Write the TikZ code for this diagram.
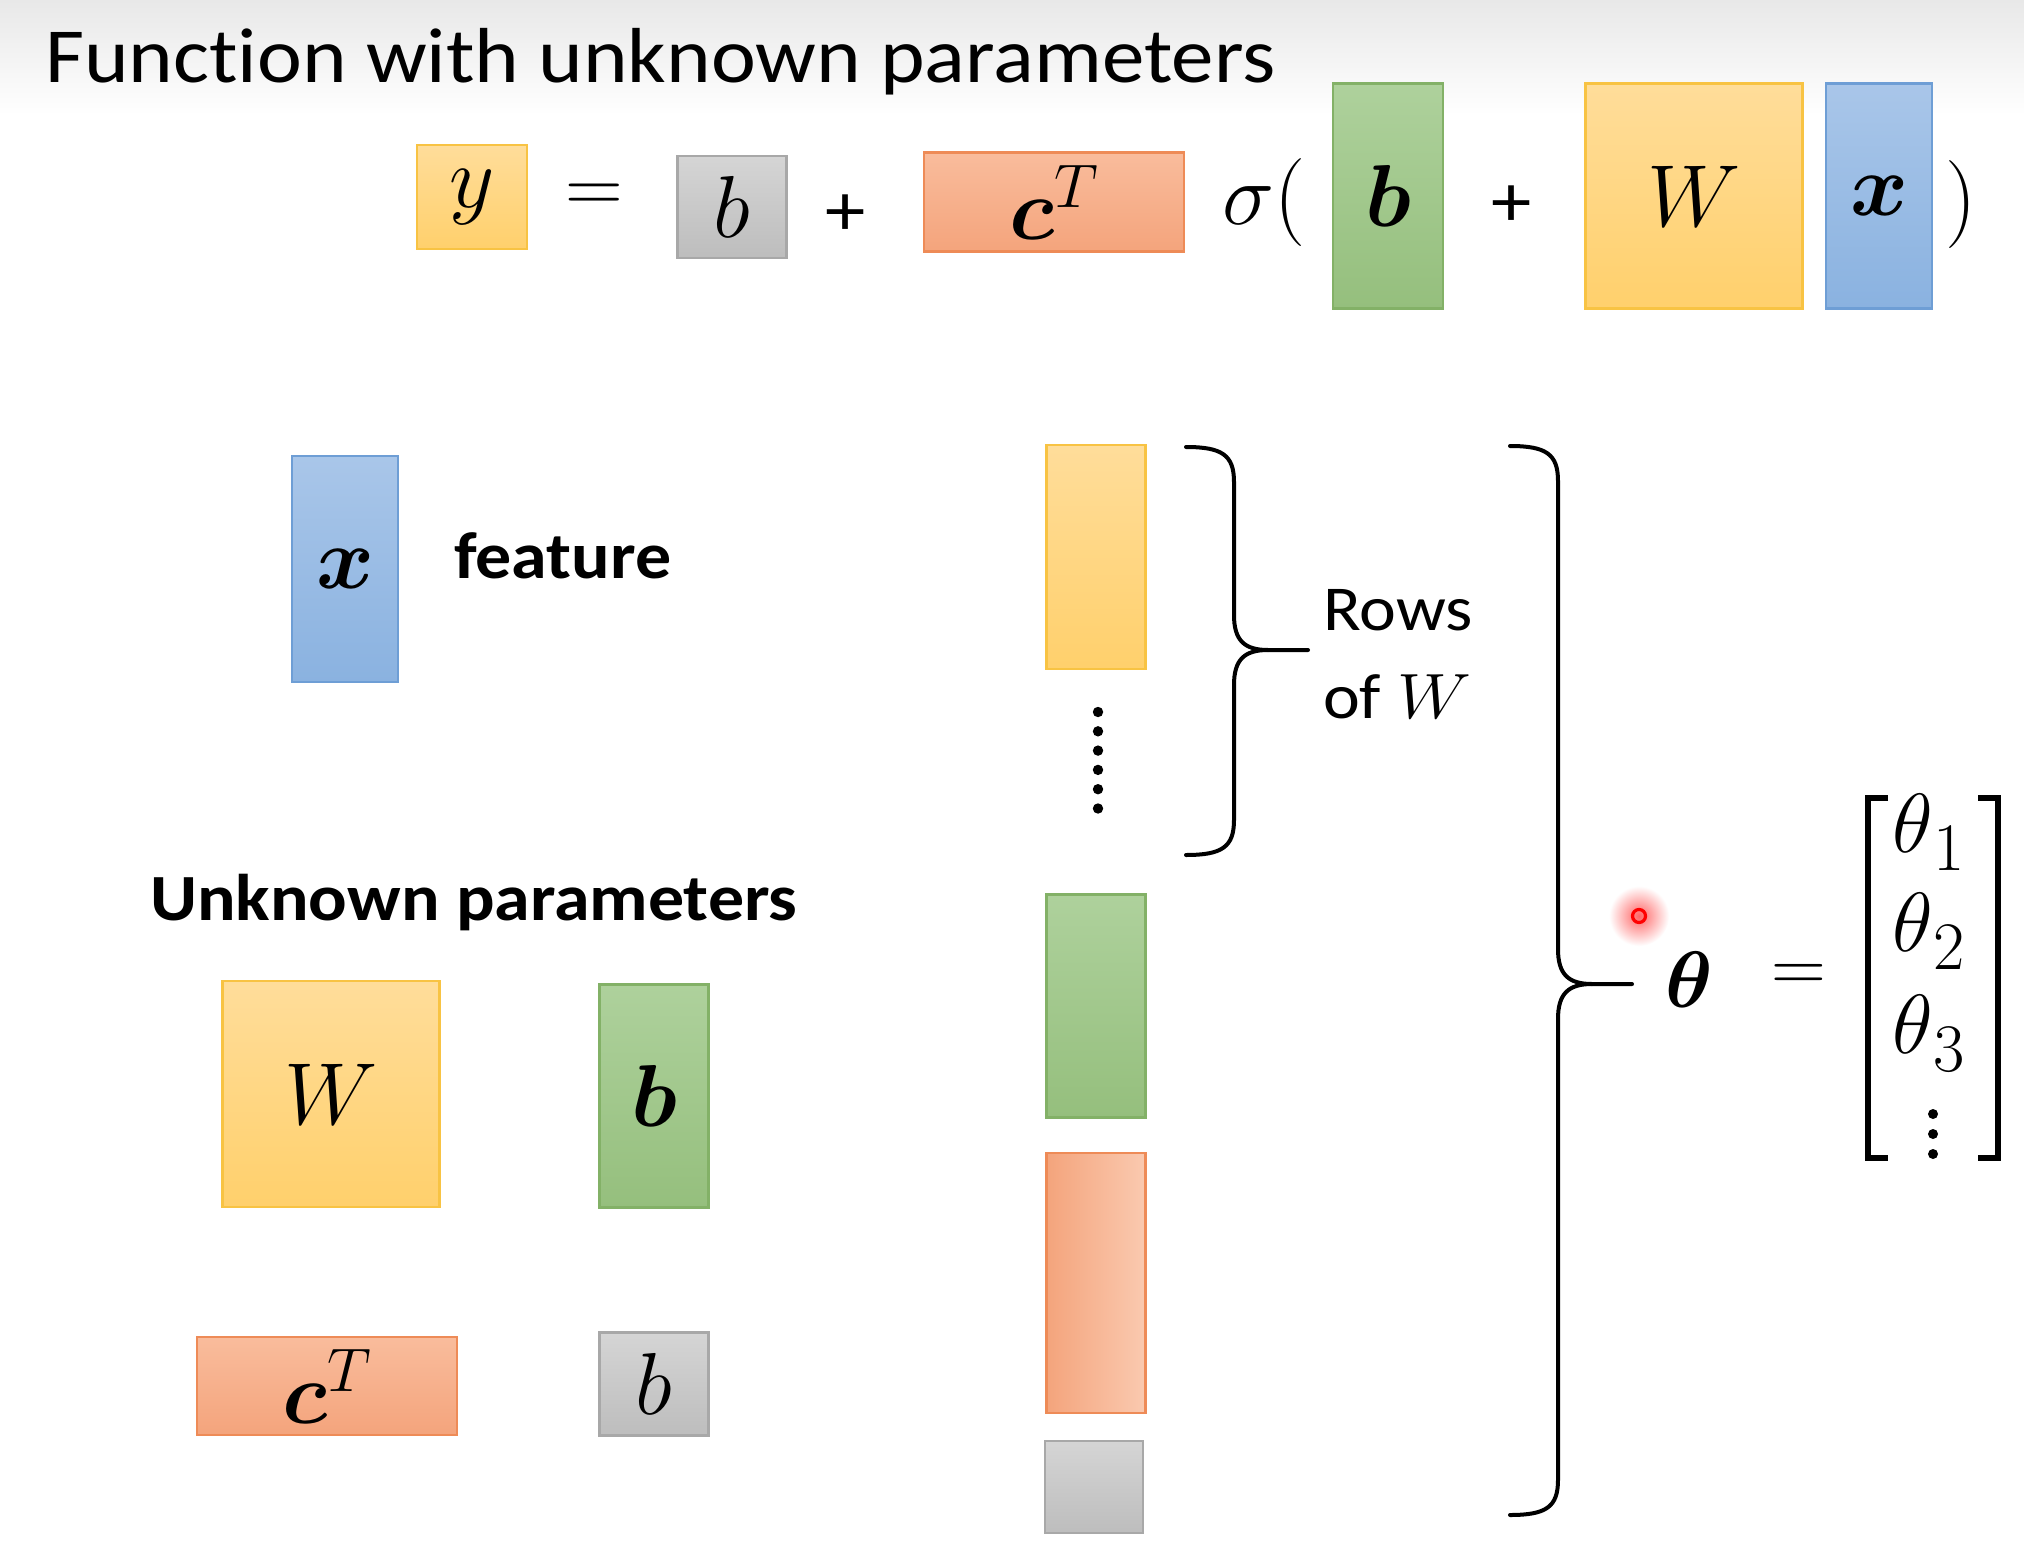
\RequirePackage{fix-cm}
\documentclass[tikz,border=0pt]{standalone}
\usepackage{amsmath,bm}
\usepackage{fontspec}
\setmainfont[Ligatures=NoCommon]{Carlito}
\definecolor{yelT}{HTML}{FFDD9A}
\definecolor{yelB}{HTML}{FFD06C}
\definecolor{yelD}{HTML}{F8C343}
\definecolor{grnT}{HTML}{AED19C}
\definecolor{grnB}{HTML}{95BF7D}
\definecolor{grnD}{HTML}{83B167}
\definecolor{bluT}{HTML}{A9C6E9}
\definecolor{bluB}{HTML}{8AB2E0}
\definecolor{bluD}{HTML}{6E9ED5}
\definecolor{orgT}{HTML}{F9BC9C}
\definecolor{orgB}{HTML}{F4A47C}
\definecolor{orgD}{HTML}{EE8B57}
\definecolor{gryT}{HTML}{D5D5D5}
\definecolor{gryB}{HTML}{BDBDBD}
\definecolor{gryD}{HTML}{A8A8A8}
\newcommand{\wide}[1]{\scalebox{1.09}[1]{#1}}
\begin{document}
\begin{tikzpicture}[x=1pt,y=-1pt,
  box/.style={draw, line width=2.2pt, inner sep=0pt, font=\fontsize{88}{90}\selectfont},
  yelbox/.style={box, draw=yelD, top color=yelT, bottom color=yelB},
  grnbox/.style={box, draw=grnD, top color=grnT, bottom color=grnB},
  blubox/.style={box, draw=bluD, top color=bluT, bottom color=bluB},
  orgbox/.style={box, draw=orgD, top color=orgT, bottom color=orgB},
  orgcol/.style={box, draw=orgD, left color=orgB, right color=orgT!80!white},
  grybox/.style={box, draw=gryD, top color=gryT, bottom color=gryB},
  sym/.style={inner sep=0pt, font=\fontsize{88}{90}\selectfont},
  plussym/.style={inner sep=0pt, font=\fontsize{74}{76}\selectfont},
  lbl/.style={inner sep=0pt, font=\fontsize{66}{70}\selectfont\bfseries},
  rowlbl/.style={inner sep=0pt, anchor=base west, font=\fontsize{64}{70}\selectfont},
  thetasty/.style={inner sep=0pt, font=\fontsize{84}{86}\selectfont},
  brace/.style={line width=4pt, line cap=round, line join=round},
  bracket/.style={line width=5.5pt}
]
\useasboundingbox (0,0) rectangle (2024,1560);
\fill[white] (0,0) rectangle (2024,1560);
\shade[top color=black!9, bottom color=white] (0,0) rectangle (2024,115);

% title
\node[inner sep=0pt, anchor=base west, font=\fontsize{78}{90}\selectfont] (title) at (45,83) {\wide{Function with unknown parameters}};

% top equation
\node[yelbox, minimum width=110, minimum height=104] (ytop) at (472,197) {$y$};
\node[inner sep=0pt, font=\fontsize{80}{82}\selectfont] (eqtop) at (594,198) {$=$};
\node[grybox, minimum width=109, minimum height=102] (btop) at (732,207) {$b$};
\node[plussym] (plustop1) at (846,215) {\wide{+}};
\node[orgbox, minimum width=260, minimum height=99] (ctop) at (1054,202) {$\bm{c}^T$};
\node[sym] (sigma) at (1264,203) {$\sigma($};
\node[grnbox, minimum width=110, minimum height=225] (bvtop) at (1388,196) {$\bm{b}$};
\node[plussym] (plustop2) at (1512,206) {\wide{+}};
\node[yelbox, minimum width=217, minimum height=225] (Wtop) at (1694,196) {$W$};
\node[blubox, minimum width=106, minimum height=225] (xtop) at (1879,196) {$\bm{x}$};
\node[sym] (rparen) at (1961,205) {$)$};

% feature
\node[blubox, minimum width=106, minimum height=226] (xbot) at (345,569) {$\bm{x}$};
\node[lbl, anchor=base west] (feature) at (454,578) {\wide{feature}};

% unknown parameters
\node[lbl, anchor=base west] (unk) at (150,920) {\wide{Unknown parameters}};
\node[yelbox, minimum width=217, minimum height=226] (Wbot) at (331,1094) {$W$};
\node[grnbox, minimum width=109, minimum height=223] (bvbot) at (654,1096) {$\bm{b}$};
\node[orgbox, minimum width=260, minimum height=98] (cbot) at (327,1386) {$\bm{c}^T$};
\node[grybox, minimum width=109, minimum height=103] (bbot) at (654,1384) {$b$};

% column
\node[yelbox, minimum width=99, minimum height=224] (col1) at (1096,557) {};
\foreach \k in {0,...,5} \fill (1098,{712+19.3*\k}) circle (5.2);
\node[grnbox, minimum width=99, minimum height=223] (col2) at (1096,1006) {};
\node[orgcol, minimum width=99, minimum height=260] (col3) at (1096,1283) {};
\node[grybox, minimum width=98, minimum height=92] (col4) at (1094,1487) {};

% small brace
\draw[brace] (1186,447) .. controls (1222,447) and (1234,455) .. (1234,482)
  -- (1234,615) .. controls (1234,640) and (1244,650) .. (1268,650) -- (1308,650);
\draw[brace] (1186,855) .. controls (1222,855) and (1234,847) .. (1234,820)
  -- (1234,685) .. controls (1234,660) and (1244,650) .. (1268,650);
\node[rowlbl] (rows) at (1323,630) {\wide{Rows}};
\node[rowlbl] (ofW) at (1323,718) {\wide{of $W$}};

% big brace
\draw[brace] (1510,446) .. controls (1546,446) and (1558,454) .. (1558,481)
  -- (1558,949) .. controls (1558,974) and (1568,984) .. (1592,984) -- (1632,984);
\draw[brace] (1510,1515) .. controls (1546,1515) and (1558,1507) .. (1558,1480)
  -- (1558,1019) .. controls (1558,994) and (1568,984) .. (1592,984);

% laser dot
\shade[inner color=red!60, outer color=white] (1639,916) circle (30);
\draw[red, line width=3.2pt] (1639,916) circle (6.5);

% theta
\node[inner sep=0pt, font=\fontsize{80}{82}\selectfont] (theta) at (1689,980) {$\bm{\theta}$};
\node[inner sep=0pt, font=\fontsize{76}{78}\selectfont] (eqth) at (1799,978) {$=$};
\draw[bracket] (1888,798) -- (1868,798) -- (1868,1158) -- (1888,1158);
\draw[bracket] (1978,798) -- (1998,798) -- (1998,1158) -- (1978,1158);
\node[thetasty, anchor=west] (th1) at (1892,832) {$\theta$\kern1pt\raisebox{-18pt}{\fontsize{68}{68}\selectfont$1$}};
\node[thetasty, anchor=west] (th2) at (1892,931) {$\theta$\kern1pt\raisebox{-18pt}{\fontsize{68}{68}\selectfont$2$}};
\node[thetasty, anchor=west] (th3) at (1892,1033) {$\theta$\kern1pt\raisebox{-18pt}{\fontsize{68}{68}\selectfont$3$}};
\foreach \k in {0,1,2} \fill (1933,{1114+20*\k}) circle (5);
\end{tikzpicture}
\end{document}
